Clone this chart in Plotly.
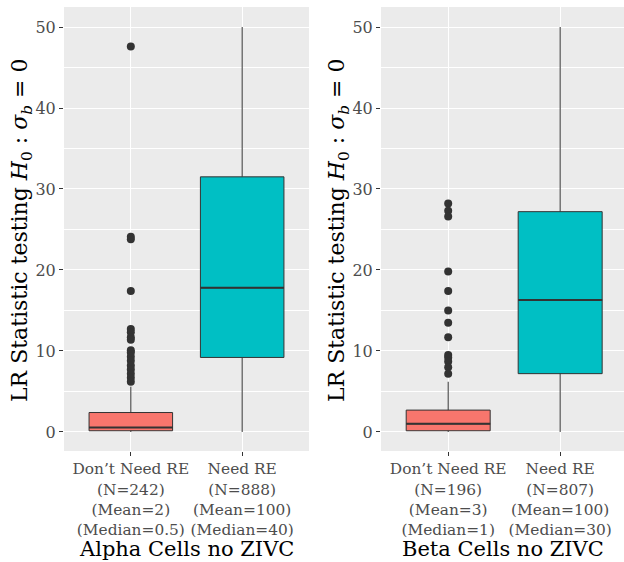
import plotly.graph_objects as go

categories = ["Don’t Need RE", "Need RE"]

alpha_labels = ["Don’t Need RE<br>(N=242)<br>(Mean=2)<br>(Median=0.5)",
                "Need RE<br>(N=888)<br>(Mean=100)<br>(Median=40)"]
beta_labels = ["Don’t Need RE<br>(N=196)<br>(Mean=3)<br>(Median=1)",
               "Need RE<br>(N=807)<br>(Mean=100)<br>(Median=30)"]

# box stats: [Don't Need RE, Need RE]
alpha_lower = [0.0, 0.0]
alpha_q1 = [0.15, 9.2]
alpha_median = [0.55, 17.8]
alpha_q3 = [2.4, 31.5]
alpha_upper = [5.6, 50.0]
alpha_outliers = [47.6, 24.1, 23.8, 17.4, 12.7, 12.3, 11.7, 11.4, 10.1, 9.8,
                  9.3, 8.8, 8.2, 7.7, 7.2, 6.7, 6.2]

beta_lower = [0.0, 0.0]
beta_q1 = [0.15, 7.2]
beta_median = [1.0, 16.3]
beta_q3 = [2.7, 27.2]
beta_upper = [6.2, 50.0]
beta_outliers = [28.2, 27.3, 26.6, 19.8, 17.4, 15.0, 13.5, 11.7, 9.5, 9.2,
                 8.7, 8.0, 7.2]

titles = ["Alpha Cells no ZIVC", "Beta Cells no ZIVC"]
fills = ["#F8766D", "#00BFC4"]

W, H = 624, 562
T, B = 7, 111
PH = H - T - B
fig = go.Figure()

panels = [
    (alpha_lower, alpha_q1, alpha_median, alpha_q3, alpha_upper, alpha_outliers, alpha_labels),
    (beta_lower, beta_q1, beta_median, beta_q3, beta_upper, beta_outliers, beta_labels),
]

serif = "DejaVu Serif"
for p, (lo, q1, med, q3, up, outs, labels) in enumerate(panels):
    xa = "x" if p == 0 else "x2"
    ya = "y" if p == 0 else "y2"
    for i in range(2):
        fig.add_trace(go.Box(
            x=[i + 1], q1=[q1[i]], median=[med[i]], q3=[q3[i]],
            lowerfence=[lo[i]], upperfence=[up[i]],
            width=0.75, fillcolor=fills[i], line=dict(color="#333333", width=1),
            boxpoints=False, whiskerwidth=0, showlegend=False,
            xaxis=xa, yaxis=ya, hoverinfo="skip"))
        # thicker median line (ggplot fatten) drawn as a collapsed box at the median
        fig.add_trace(go.Box(
            x=[i + 1], q1=[med[i]], median=[med[i]], q3=[med[i]],
            lowerfence=[med[i]], upperfence=[med[i]],
            width=0.75, fillcolor="rgba(0,0,0,0)", line=dict(color="#333333", width=2),
            boxpoints=False, whiskerwidth=0, showlegend=False,
            xaxis=xa, yaxis=ya, hoverinfo="skip"))
    fig.add_trace(go.Scatter(
        x=[1] * len(outs), y=outs, mode="markers",
        marker=dict(color="#333333", size=8), showlegend=False,
        xaxis=xa, yaxis=ya, hoverinfo="skip"))

left_dom = [64 / W, 309 / W]
right_dom = [381 / W, 1.0]

tickfont = dict(family=serif, size=15.4, color="#4D4D4D")
common_y = dict(
    range=[-2.35, 52.47], tickvals=[0, 10, 20, 30, 40, 50],
    showgrid=True, gridcolor="white", gridwidth=1.2, zeroline=False,
    ticks="outside", ticklen=4, tickcolor="#333333", tickwidth=1,
    tickfont=dict(family=serif, size=16, color="#4D4D4D"), automargin=False,
    minor=dict(dtick=5, tick0=0, showgrid=True, gridcolor="white", gridwidth=0.6),
    showline=False,
)
common_x = dict(
    tickvals=[1, 2], showgrid=True, gridcolor="white", gridwidth=1.2,
    zeroline=False, ticks="outside", ticklen=4, tickcolor="#333333", tickwidth=1,
    tickfont=tickfont, showline=False, automargin=False, tickangle=0,
)

fig.update_layout(
    width=W, height=H,
    margin=dict(l=0, r=0, t=T, b=B, autoexpand=False),
    font=dict(family=serif),
    paper_bgcolor="white", plot_bgcolor="#EBEBEB",
    boxmode="overlay",
    xaxis=dict(domain=left_dom, range=[0.4, 2.6], ticktext=alpha_labels, anchor="y", **common_x),
    xaxis2=dict(domain=right_dom, range=[0.4, 2.57], ticktext=beta_labels, anchor="y2", **common_x),
    yaxis=dict(domain=[0, 1], anchor="x", **common_y),
    yaxis2=dict(domain=[0, 1], anchor="x2", **common_y),
)

def py(ypix):
    return (H - B - ypix) / PH

ytitle = "LR Statistic testing <i>H</i><sub>0</sub> : <i>σ</i><sub><i>b</i></sub> = 0"
for xc in [21, 338]:
    fig.add_annotation(text=ytitle, textangle=-90, x=xc / W, y=py(230),
                       xref="paper", yref="paper", showarrow=False,
                       xanchor="center", yanchor="middle",
                       font=dict(family=serif, size=22, color="black"))
for t, xc in zip(titles, [186, 503]):
    fig.add_annotation(text=t, x=xc / W, y=py(549), xref="paper", yref="paper",
                       showarrow=False, xanchor="center", yanchor="middle",
                       font=dict(family=serif, size=21, color="black"))

fig.write_html("out.html", config={"displayModeBar": False},
               post_script="document.body.style.margin='0px';document.body.style.overflow='hidden';")
